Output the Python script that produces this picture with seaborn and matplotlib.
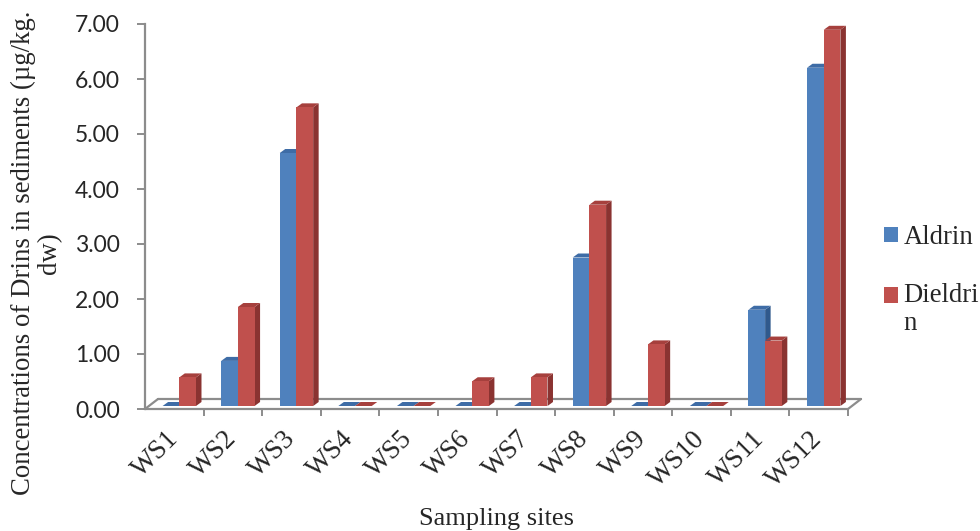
import numpy as np
import pandas as pd
import matplotlib
matplotlib.use("Agg")
import matplotlib.pyplot as plt
import seaborn as sns
from matplotlib.transforms import ScaledTranslation, IdentityTransform
from matplotlib.patches import Polygon, Patch, Rectangle
from matplotlib.legend_handler import HandlerPatch

# ---- data ----
sites = ["WS1", "WS2", "WS3", "WS4", "WS5", "WS6", "WS7", "WS8", "WS9", "WS10", "WS11", "WS12"]
aldrin = [0.00, 0.82, 4.60, 0.00, 0.00, 0.00, 0.00, 2.70, 0.00, 0.00, 1.75, 6.15]
dieldrin = [0.52, 1.80, 5.43, 0.00, 0.00, 0.45, 0.52, 3.66, 1.12, 0.00, 1.19, 6.84]
series_names = ["Aldrin", "Dieldrin"]
legend_labels = ["Aldrin", "Dieldri\nn"]
yticks = [0, 1, 2, 3, 4, 5, 6, 7]

df = pd.DataFrame({
    "site": sites * 2,
    "value": aldrin + dieldrin,
    "compound": [series_names[0]] * len(sites) + [series_names[1]] * len(sites),
})

blue, red = "#4F81BD", "#C0504D"
side_cols = {blue: "#30598C", red: "#8A3331"}
top_cols = {blue: "#3E6CA6", red: "#A6403D"}
gray = "#8C8C8C"

sns.set_style("white")
plt.rcParams["font.family"] = ["Liberation Serif", "DejaVu Serif"]

DPI = 100
fig = plt.figure(figsize=(9.8, 5.31), dpi=DPI)
W, H = 980, 531
ax = fig.add_axes([145 / W, 1 - 409 / H, 703 / W, 385 / H])

sns.barplot(data=df, x="site", y="value", hue="compound", palette=[blue, red],
            width=0.57, saturation=1, errorbar=None, legend=False, ax=ax)

ax.set_xlim(-0.5, len(sites) - 0.5)
ax.set_ylim(0, 7)

# 3D look: shift front faces slightly back, add side and top faces
shift = ScaledTranslation(5 / DPI, 3 / DPI, fig.dpi_scale_trans)
dx, dy = 5.5, 4.0
fig.canvas.draw()
for p in list(ax.patches):
    fc = matplotlib.colors.to_hex(p.get_facecolor())
    key = blue if fc.lower() == blue.lower() else red
    p.set_transform(ax.transData + shift)
    p.set_edgecolor("none")
    p.set_zorder(3)
    x0, y0 = p.get_x(), p.get_y()
    w, h = p.get_width(), p.get_height()
    tr = ax.transData + shift
    BL, BR, TR, TL = tr.transform([(x0, y0), (x0 + w, y0), (x0 + w, y0 + h), (x0, y0 + h)])
    d = np.array([dx, dy])
    side = Polygon([BR, TR, TR + d, BR + d], closed=True, transform=IdentityTransform(),
                   facecolor=side_cols[key], edgecolor="none", zorder=2, clip_on=False)
    top = Polygon([TL, TR, TR + d, TL + d], closed=True, transform=IdentityTransform(),
                  facecolor=top_cols[key], edgecolor="none", zorder=2, clip_on=False)
    ax.add_artist(side)
    ax.add_artist(top)

# floor (parallelogram)
n = len(sites)
fdx, fdy = 13, 10
back = ScaledTranslation(fdx / DPI, fdy / DPI, fig.dpi_scale_trans)
ax.plot([-0.5, n - 0.5], [0, 0], color=gray, lw=1.6, clip_on=False, zorder=1)
ax.plot([-0.5, n - 0.5], [0, 0], color=gray, lw=1.6, clip_on=False, zorder=1,
        transform=ax.transData + back)
for xe in (-0.5, n - 0.5):
    a = ax.transData.transform((xe, 0))
    b = a + np.array([fdx, fdy])
    ax.plot([a[0], b[0]], [a[1], b[1]], color=gray, lw=1.6, clip_on=False, zorder=1,
            transform=IdentityTransform())

# spines
for s in ("top", "right", "bottom"):
    ax.spines[s].set_visible(False)
ax.spines["left"].set_color(gray)
ax.spines["left"].set_linewidth(1.6)

# y ticks
ax.set_yticks(yticks)
ax.set_yticklabels([f"{v:.2f}" for v in yticks], fontfamily="Lato", fontsize=16.5)
ax.tick_params(axis="y", direction="out", length=6, width=1.4, color=gray, pad=12, left=True)

# x ticks: labels at centres, marks at boundaries
ax.set_xticks(range(n))
ax.set_xticklabels(sites, fontsize=19.5, rotation=45, ha="right", va="center",
                   rotation_mode="anchor")
ax.tick_params(axis="x", which="major", length=0, pad=19, bottom=True)
ax.set_xticks(np.arange(0.5, n), minor=True)
ax.tick_params(axis="x", which="minor", direction="out", length=5, width=1.4,
               color=gray, bottom=True)

ax.set_xlabel("Sampling sites", fontsize=19)
ax.xaxis.set_label_coords(0.5, -0.256)
ax.set_ylabel("Concentrations of Drins in sediments (µg/kg.\ndw)", fontsize=19.3,
              linespacing=1.05)
ax.yaxis.set_label_coords(-0.118, 0.405)


# legend: square aligned with the first line of a wrapped label
def make_square(legend, orig_handle, xdescent, ydescent, width, height, fontsize):
    lift = 0.0
    if getattr(orig_handle, "_lift", False):
        lift = 10.5
    return Rectangle((-xdescent, -ydescent + lift), width, height)


h1 = Patch(facecolor=blue, edgecolor="none")
h2 = Patch(facecolor=red, edgecolor="none")
h2._lift = True
fig.legend(handles=[h1, h2], labels=legend_labels, loc="upper left",
           bbox_to_anchor=(884 / W, 1 - 225 / H), frameon=False,
           prop={"family": "Liberation Serif", "size": 19.2},
           handlelength=0.53, handleheight=0.53, handletextpad=0.2, labelspacing=1.22,
           borderaxespad=0, borderpad=0,
           handler_map={Patch: HandlerPatch(patch_func=make_square)})

fig.savefig("out.png", dpi=DPI)
